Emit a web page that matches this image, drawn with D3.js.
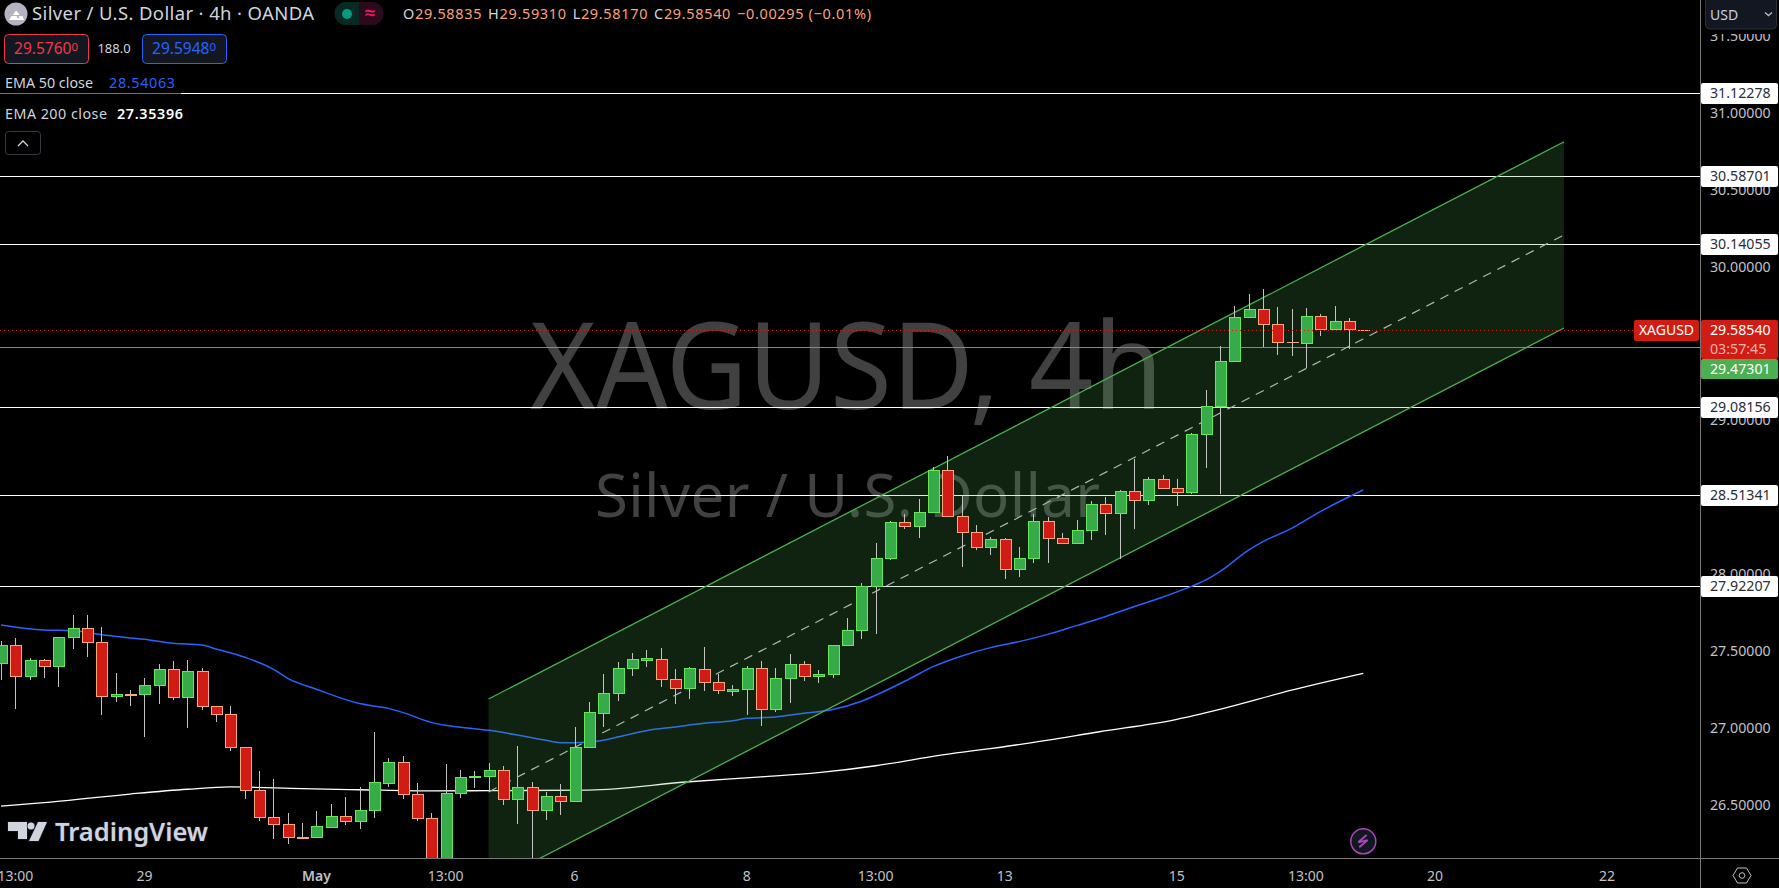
<!DOCTYPE html>
<html><head><meta charset="utf-8">
<script src="https://cdn.jsdelivr.net/npm/d3@7"></script>
<style>
html,body{margin:0;padding:0;background:#000;overflow:hidden}
svg{display:block;font-family:"Noto Sans","Open Sans",sans-serif}
</style></head><body><svg id="c" width="1779" height="888"></svg>
<script>
const opens=[27.420,27.537,27.335,27.439,27.400,27.589,27.647,27.556,27.205,27.218,27.218,27.277,27.381,27.199,27.368,27.140,27.088,26.874,26.594,26.419,26.373,26.291,26.288,26.358,26.425,26.393,26.464,26.644,26.776,26.568,26.412,25.950,26.575,26.683,26.685,26.724,26.536,26.614,26.464,26.555,26.523,26.874,27.099,27.225,27.387,27.444,27.450,27.316,27.257,27.385,27.296,27.242,27.251,27.387,27.121,27.322,27.413,27.335,27.348,27.537,27.634,27.921,28.103,28.337,28.311,28.402,28.675,28.376,28.272,28.174,28.226,28.031,28.103,28.343,28.233,28.200,28.285,28.454,28.395,28.538,28.479,28.616,28.557,28.531,28.909,29.091,29.383,29.669,29.721,29.624,29.509,29.500,29.676,29.591,29.643,29.58835];
const highs=[27.565,27.582,27.452,27.446,27.589,27.734,27.734,27.654,27.355,27.246,27.322,27.415,27.435,27.439,27.387,27.140,27.140,26.874,26.718,26.666,26.445,26.380,26.460,26.505,26.551,26.616,26.973,26.802,26.817,26.642,26.445,26.765,26.726,26.718,26.770,26.750,26.882,26.648,26.583,26.635,27.006,27.168,27.350,27.428,27.487,27.504,27.520,27.383,27.396,27.526,27.350,27.281,27.403,27.435,27.387,27.480,27.435,27.376,27.537,27.715,27.940,28.202,28.343,28.391,28.488,28.694,28.768,28.510,28.319,28.241,28.235,28.176,28.391,28.369,28.267,28.352,28.473,28.499,28.547,28.746,28.629,28.642,28.616,28.915,29.195,29.481,29.741,29.821,29.851,29.734,29.721,29.728,29.689,29.741,29.663,29.59310];
const lows=[27.311,27.125,27.311,27.324,27.268,27.515,27.463,27.086,27.171,27.145,26.943,27.158,27.184,27.002,27.119,27.041,26.852,26.540,26.397,26.280,26.247,26.278,26.288,26.349,26.371,26.343,26.414,26.616,26.538,26.397,25.850,25.850,26.544,26.611,26.581,26.501,26.377,26.100,26.401,26.436,26.523,26.867,27.008,27.177,27.340,27.398,27.266,27.158,27.190,27.242,27.223,27.207,27.084,27.014,27.106,27.164,27.307,27.294,27.327,27.537,27.578,27.613,28.094,28.295,28.237,28.402,28.376,28.048,28.159,28.126,27.970,27.983,28.074,28.074,28.200,28.200,28.224,28.256,28.096,28.295,28.451,28.557,28.445,28.523,28.692,28.523,29.383,29.669,29.474,29.427,29.420,29.338,29.550,29.591,29.466,29.58170];
const closes=[27.539,27.335,27.439,27.400,27.589,27.647,27.556,27.205,27.218,27.215,27.277,27.381,27.199,27.368,27.140,27.088,26.874,26.594,26.419,26.373,26.288,26.286,26.360,26.425,26.393,26.464,26.646,26.776,26.568,26.412,25.950,26.575,26.679,26.685,26.724,26.536,26.614,26.464,26.555,26.523,26.874,27.101,27.225,27.387,27.446,27.452,27.316,27.257,27.387,27.296,27.244,27.251,27.387,27.121,27.322,27.413,27.335,27.348,27.537,27.634,27.921,28.103,28.337,28.311,28.402,28.675,28.376,28.272,28.174,28.226,28.031,28.103,28.343,28.233,28.200,28.285,28.454,28.395,28.538,28.479,28.616,28.557,28.531,28.909,29.091,29.383,29.669,29.721,29.624,29.507,29.506,29.676,29.591,29.643,29.591,29.58540];

const ema50Idx=[0,3,5,7,10,12,14,15,17,19,20,22,25,27,28,30,31,33,34,36,38,39,40,41,42,43,45,47,49,51,52,54,56,58,60,61.3,63.3,65,67,69,71,73,75,77,79,81,83,84,85,87,88,90,92,94,95];
const ema50Val=[27.669,27.637,27.634,27.606,27.576,27.550,27.539,27.513,27.459,27.381,27.322,27.251,27.158,27.127,27.101,27.036,27.017,26.995,26.984,26.954,26.919,26.904,26.904,26.908,26.919,26.941,26.982,27.006,27.030,27.047,27.062,27.071,27.095,27.119,27.173,27.225,27.316,27.398,27.468,27.522,27.561,27.608,27.665,27.723,27.788,27.850,27.920,27.961,28.016,28.156,28.211,28.297,28.406,28.503,28.547];
const ema200Idx=[0,3,9,13,16,21,25,30,34,41,48,53,57,61,64.8,71.1,76.6,82,85,90,95];
const ema200Val=[26.492,26.514,26.570,26.601,26.616,26.605,26.598,26.590,26.592,26.596,26.650,26.681,26.709,26.754,26.812,26.893,26.975,27.056,27.121,27.245,27.354];

const levels=[31.12278,30.58701,30.14055,29.08156,28.51341,27.92207];
const greenLevel=29.47301, lastPrice=29.58540;
const priceTicks=[31.5,31,30.5,30,29,28,27.5,27,26.5];
const channelIdx=[34,109];
const channelUpper=[27.188,30.811];
const channelLower=[25.979,29.600];
const timeIdx=[1,10,22,31,40,52,61,70,82,91,100,112];
const timeLabels=["13:00","29","May","13:00","6","8","13:00","13","15","13:00","20","22"];
const ohlcLabels=["O","H","L","C"];
const ohlcValues=["29.58835","29.59310","29.58170","29.58540"];

const W=1700.5,H=858.5;
const x=d3.scaleLinear().domain([0,100]).range([1,1435]);
const y=d3.scaleLinear().domain([31,26.5]).range([112.7,804.8]);
const svg=d3.select("#c");
const FONT='"Noto Sans","Open Sans",sans-serif';
svg.append("rect").attr("width",1779).attr("height",888).attr("fill","#000");
svg.append("clipPath").attr("id","pane").append("rect").attr("width",W).attr("height",H);
const pane=svg.append("g").attr("clip-path","url(#pane)");

// watermark
pane.append("text").attr("x",530).attr("y",409).attr("font-size",120).attr("fill","#414141")
 .attr("textLength",633).attr("lengthAdjust","spacingAndGlyphs").text("XAGUSD, 4h");
pane.append("text").attr("x",595).attr("y",516.5).attr("font-size",60).attr("fill","#414141")
 .attr("textLength",505).attr("lengthAdjust","spacing").text("Silver / U.S. Dollar");

// horizontal levels
const snap=v=>Math.floor(y(v))+.5;
pane.append("g").attr("shape-rendering","crispEdges").selectAll("line").data(levels).join("line").attr("x1",0).attr("x2",W)
 .attr("y1",snap).attr("y2",snap).attr("stroke","#fff").attr("stroke-width",1);
pane.append("line").attr("x1",0).attr("x2",W).attr("y1",snap(greenLevel)).attr("y2",snap(greenLevel)).attr("stroke","#4caf50").attr("stroke-width",1).attr("shape-rendering","crispEdges");

// EMA lines
const ln=d3.line().x(d=>x(d[0])).y(d=>y(d[1])).curve(d3.curveMonotoneX);
pane.append("path").attr("d",ln(ema200Idx.map((d,i)=>[d,ema200Val[i]]))).attr("fill","none").attr("stroke","#fff").attr("stroke-width",1.3);
pane.append("path").attr("d",ln(ema50Idx.map((d,i)=>[d,ema50Val[i]]))).attr("fill","none").attr("stroke","#2962ff").attr("stroke-width",1.5);

// channel
const chPts=[[channelIdx[0],channelUpper[0]],[channelIdx[1],channelUpper[1]],[channelIdx[1],channelLower[1]],[channelIdx[0],channelLower[0]]];
pane.append("path").attr("d",d3.line().x(d=>x(d[0])).y(d=>y(d[1]))(chPts)+"Z").attr("fill","rgba(76,175,80,0.2)");
const seg=(a,b,c,d)=>pane.append("line").attr("x1",x(a)).attr("x2",x(c)).attr("y1",y(b)).attr("y2",y(d));
seg(channelIdx[0],channelUpper[0],channelIdx[1],channelUpper[1]).attr("stroke","#4caf50").attr("stroke-width",1.3);
seg(channelIdx[0],channelLower[0],channelIdx[1],channelLower[1]).attr("stroke","#4caf50").attr("stroke-width",1.3);
seg(channelIdx[0],(channelUpper[0]+channelLower[0])/2,channelIdx[1],(channelUpper[1]+channelLower[1])/2).attr("stroke","#b2b5b2").attr("stroke-width",1.2).attr("stroke-dasharray","9 7");

// candles
const candles=opens.map((o,i)=>({i,o,h:highs[i],l:lows[i],c:closes[i]}));
const g=pane.append("g").attr("shape-rendering","crispEdges");
const cg=g.selectAll("g").data(candles).join("g");
cg.filter(d=>d.h-d.l>0.02).append("line").attr("x1",d=>Math.round(x(d.i))+.5).attr("x2",d=>Math.round(x(d.i))+.5)
 .attr("y1",d=>y(d.h)).attr("y2",d=>y(d.l)).attr("stroke","#c4c4c4");
const bodyH=d=>Math.round(y(Math.min(d.o,d.c)))-Math.round(y(Math.max(d.o,d.c)));
const edge=d=>d.c>=d.o?"#66e65a":"#f9a77c";
cg.filter(d=>bodyH(d)>0).append("rect").attr("x",d=>Math.round(x(d.i))-5).attr("width",11)
 .attr("y",d=>Math.round(y(Math.max(d.o,d.c)))+.5)
 .attr("height",bodyH)
 .attr("fill",d=>d.c>=d.o?"#37ab47":"#d01c14").attr("stroke",edge);
cg.filter(d=>bodyH(d)<=0).append("rect").attr("x",d=>Math.round(x(d.i))-5.5).attr("width",12)
 .attr("y",d=>Math.round(y(d.o))).attr("height",1).attr("fill",edge);

// dotted last price
pane.append("line").attr("x1",0).attr("x2",1634).attr("y1",snap(lastPrice)).attr("y2",snap(lastPrice))
 .attr("stroke","#d81e16").attr("stroke-width",1).attr("stroke-dasharray","1 3");

// axes frame
svg.append("line").attr("x1",W).attr("x2",W).attr("y1",0).attr("y2",888).attr("stroke","#787878");
svg.append("line").attr("x1",0).attr("x2",1779).attr("y1",H).attr("y2",H).attr("stroke","#787878");

const axFS=14.2;
// price ticks
svg.selectAll(".pt").data(priceTicks).join("text").attr("x",1710).attr("y",d=>y(d)+5).attr("font-size",axFS).attr("fill","#c0c2c8").text(d=>d.toFixed(5));
// top cover + currency button
svg.append("rect").attr("x",1702).attr("y",0).attr("width",77).attr("height",34).attr("fill","#000");
svg.append("rect").attr("x",1705.5).attr("y",-6).attr("width",71).attr("height",35).attr("rx",4).attr("fill","#131722").attr("stroke","#2a2e39");
svg.append("text").attr("x",1710).attr("y",19.5).attr("font-size",14).attr("fill","#c8d0e0").text("USD");
svg.append("path").attr("d","M1765 12.5l3.5 3 3.5-3").attr("fill","none").attr("stroke","#b2b5be").attr("stroke-width",1.5);

// level labels
levels.forEach(v=>{
 const yy=Math.floor(y(v));
 svg.append("rect").attr("x",1701).attr("y",yy-10).attr("width",77).attr("height",21).attr("rx",2).attr("fill","#fff");
 svg.append("text").attr("x",1710).attr("y",yy+5).attr("font-size",axFS).attr("fill","#2a2e39").text(v.toFixed(5));
});
// price labels
const ly=Math.floor(y(lastPrice));
svg.append("rect").attr("x",1634).attr("y",ly-10).attr("width",65).attr("height",21).attr("rx",2).attr("fill","#d01c14");
svg.append("text").attr("x",1666.5).attr("y",ly+5).attr("text-anchor","middle").attr("font-size",14).attr("fill","#fff").text("XAGUSD");
svg.append("rect").attr("x",1701).attr("y",ly-10).attr("width",77).attr("height",39).attr("rx",2).attr("fill","#d01c14");
svg.append("text").attr("x",1710).attr("y",ly+5).attr("font-size",axFS).attr("fill","#fff").text(lastPrice.toFixed(5));
svg.append("text").attr("x",1710).attr("y",ly+24).attr("font-size",axFS).attr("fill","#f0b0ac").text("03:57:45");
svg.append("rect").attr("x",1701).attr("y",359).attr("width",77).attr("height",20).attr("rx",2).attr("fill","#4caf50");
svg.append("text").attr("x",1710).attr("y",374).attr("font-size",axFS).attr("fill","#fff").text(greenLevel.toFixed(5));

// time labels
svg.selectAll(".tl").data(timeLabels).join("text").attr("x",(d,i)=>x(timeIdx[i])).attr("y",881)
 .attr("text-anchor","middle").attr("font-size",14).attr("font-weight",d=>d==="May"?600:400).attr("fill","#c0c2c8").text(d=>d);

// settings hex
const hx=1742,hy=875.5;
svg.append("path").attr("d",`M${hx-9} ${hy}l4.5-7.5h9l4.5 7.5-4.5 7.5h-9z`).attr("fill","none").attr("stroke","#c0c2c8");
svg.append("circle").attr("cx",hx).attr("cy",hy).attr("r",2.8).attr("fill","none").attr("stroke","#c0c2c8");

// legend dim
svg.append("rect").attr("x",0).attr("y",72).attr("width",181).attr("height",55).attr("fill","rgba(0,0,0,0.55)");

// legend
svg.append("circle").attr("cx",16).attr("cy",14).attr("r",11.5).attr("fill","#b4b4c0");
svg.append("path").attr("d","M9 20l2.5-4h5l2.5 4zM13 15l2.5-4h1.5l2.5 4zM18 20l1.5-4h3l1.5 4z").attr("fill","#fff");
svg.append("text").attr("x",32).attr("y",20).attr("font-size",18.5).attr("fill","#d1d4dc").attr("textLength",282).attr("lengthAdjust","spacing").text("Silver / U.S. Dollar · 4h · OANDA");
svg.append("path").attr("d","M359 2h-13a11.5 11.5 0 0 0 0 23h13z").attr("fill","#082a24");
svg.append("path").attr("d","M359 2h13a11.5 11.5 0 0 1 0 23h-13z").attr("fill","#2b0a1e");
svg.append("circle").attr("cx",347).attr("cy",14).attr("r",5).attr("fill","#089981");
svg.append("text").attr("x",370).attr("y",20).attr("text-anchor","middle").attr("font-size",20).attr("font-weight",600).attr("fill","#e91e63").text("≈");

const oh=svg.append("text").attr("x",403).attr("y",19).attr("font-size",14.5).attr("textLength",468).attr("lengthAdjust","spacing");
ohlcLabels.forEach((l,i)=>{
 oh.append("tspan").attr("fill","#d1d4dc").attr("dx",i?6:0).text(l);
 oh.append("tspan").attr("fill","#f7a37e").text(ohlcValues[i]);
});
oh.append("tspan").attr("fill","#f7a37e").attr("dx",6).text("−0.00295 (−0.01%)");

function box(x0,w,col,txt,sup){
 svg.append("rect").attr("x",x0+.5).attr("y",34.5).attr("width",w).attr("height",29).attr("rx",4).attr("fill","#131722").attr("stroke",col);
 const t=svg.append("text").attr("x",x0+w/2).attr("y",54).attr("text-anchor","middle").attr("fill",col).attr("font-size",15.5).text(txt);
 t.append("tspan").attr("font-size",11.5).attr("dy",-3).text(sup);
}
box(4,84,"#f23645","29.5760","0");
box(142,84,"#2962ff","29.5948","0");
svg.append("text").attr("x",114).attr("y",53).attr("text-anchor","middle").attr("font-size",13).attr("fill","#d1d4dc").text("188.0");

const leg=(tx,ty,len,col,str,wt)=>svg.append("text").attr("x",tx).attr("y",ty).attr("font-size",14.3).attr("fill",col).attr("font-weight",wt||400)
 .attr("textLength",len).attr("lengthAdjust","spacing").text(str);
leg(5,88,88,"#d1d4dc","EMA 50 close");
leg(109,88,66,"#2962ff","28.54063");
leg(5,119,102,"#d1d4dc","EMA 200 close");
leg(117,119,66,"#fff","27.35396",600);
svg.append("rect").attr("x",5.5).attr("y",131.5).attr("width",35).attr("height",23).attr("rx",3).attr("fill","#000").attr("stroke","#363a45");
svg.append("path").attr("d","M18 146l5-5 5 5").attr("fill","none").attr("stroke","#d1d4dc").attr("stroke-width",1.3);

// logo
const lg=svg.append("g").attr("fill","#d1d4dc").attr("stroke","#131722").attr("stroke-width",1.5).attr("paint-order","stroke");
lg.append("path").attr("d","M8 822h19v17h-9v-8h-10z");
lg.append("circle").attr("cx",31).attr("cy",826).attr("r",3.5);
lg.append("path").attr("d","M38 822h9l-8.5 19h-9.5z");
lg.append("text").attr("x",55).attr("y",841).attr("font-size",25.5).attr("font-weight",600).attr("font-family",FONT).text("TradingView");

// bolt
svg.append("circle").attr("cx",1363.3).attr("cy",841.3).attr("r",12.5).attr("fill","#131722").attr("stroke","#ab47bc").attr("stroke-width",1.5);
svg.append("path").attr("d","M1366.6 835l-8.3 7.3 9.3-2.3-8.3 7.3").attr("fill","none").attr("stroke","#ab47bc").attr("stroke-width",1.8);
</script></body></html>
